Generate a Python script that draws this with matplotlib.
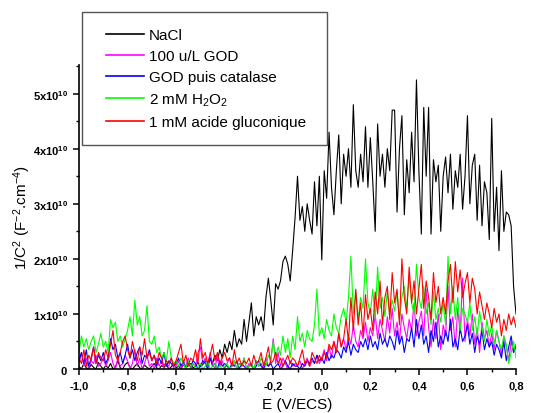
import matplotlib
matplotlib.use("Agg")
import matplotlib.pyplot as plt
import numpy as np
from matplotlib.patches import Rectangle
from matplotlib.ticker import FuncFormatter, MultipleLocator

plt.rcParams["font.family"] = ["Liberation Sans", "DejaVu Sans"]
plt.rcParams["mathtext.fontset"] = "custom"
plt.rcParams["mathtext.rm"] = "Liberation Sans"
plt.rcParams["mathtext.bf"] = "Liberation Sans:bold"
plt.rcParams["mathtext.it"] = "Liberation Sans:italic"

# potential grid, V/ECS (0.01 V step)
E = np.linspace(-1.0, 0.8, 181)

# 1/C^2 values in units of 1e10 F^-2.cm^-4
nacl = [
    0.05, 0.0, 0.1, 0.02, 0.0, 0.08, 0.03, 0.0, 0.12, 0.05,
    0.0, 0.06, 0.02, 0.1, 0.0, 0.04, 0.15, 0.02, 0.0, 0.08,
    0.12, 0.03, 0.0, 0.05, 0.1, 0.02, 0.0, 0.07, 0.03, 0.0,
    0.05, 0.1, 0.02, 0.0, 0.06, 0.03, 0.08, 0.0, 0.04, 0.1,
    0.02, 0.05, 0.0, 0.08, 0.03, 0.06, 0.1, 0.02, 0.05, 0.12,
    0.04, 0.08, 0.15, 0.06, 0.2,
    0.1, 0.25, 0.15, 0.35, 0.2, 0.45, 0.3, 0.5, 0.35, 0.7,
    0.4, 0.55, 0.45, 0.9, 0.5, 0.85, 1.2, 0.6, 0.95, 0.8,
    0.95, 0.7, 1.3, 1.65, 1.25, 0.8, 1.55, 1.45, 1.6, 1.95,
    2.05, 1.9, 1.6, 2.15, 2.75, 3.5, 2.7, 2.95, 2.5, 3.0,
    2.7, 2.45, 3.4, 2.6, 3.5,
    1.98, 3.6, 3.1, 4.3, 3.3, 2.8, 3.6, 4.25, 3.0, 3.9,
    3.5, 4.0, 3.3, 4.8, 3.6, 3.3, 3.9, 3.4, 4.4, 3.3,
    4.2, 3.4, 2.5, 4.45, 3.5, 3.9, 3.3, 4.0, 3.6, 4.7,
    4.7, 2.85, 4.0, 4.6, 2.8, 3.8, 3.2, 4.3, 3.4, 5.25,
    3.6, 2.45, 4.75, 3.5, 4.75, 2.45, 3.8, 3.4, 3.7, 2.5,
    3.5, 3.85, 3.2, 3.9, 2.9, 3.6, 3.3, 3.9, 2.9, 3.5,
    4.6, 3.0, 3.7, 3.9, 2.7, 3.7, 2.6, 3.4, 3.2, 2.35,
    4.55, 2.5, 3.3, 2.15, 3.6, 2.5, 2.85, 2.8, 2.6, 1.5,
    1.0,
]

god = [
    0.1, 0.3, 0.05, 0.2, 0.0, 0.15, 0.1, 0.25, 0.05, 0.1,
    0.2, 0.05, 0.15, 0.3, 0.1, 0.0, 0.2, 0.05, 0.1, 0.25,
    0.15, 0.0, 0.1, 0.35, 0.05, 0.2, 0.0, 0.1, 0.25, 0.05,
    0.1, 0.0, 0.2, 0.05, 0.15, 0.0, 0.1, 0.05, 0.2, 0.0,
    0.05, 0.15, 0.0, 0.1, 0.05, 0.2, 0.0, 0.1, 0.05, 0.3,
    0.4, 0.1, 0.2, 0.05, 0.3, 0.1, 0.0, 0.25, 0.05, 0.15,
    0.0, 0.1, 0.2, 0.05, 0.15, 0.0, 0.1, 0.05, 0.2, 0.0,
    0.1, 0.05, 0.0, 0.15, 0.05, 0.1, 0.0, 0.2, 0.05, 0.15,
    0.55, 0.1, 0.3, 0.05, 0.2, 0.1, 0.0, 0.15, 0.05, 0.1,
    0.05, 0.15, 0.0, 0.1, 0.2, 0.05, 0.15, 0.1, 0.25, 0.1,
    0.2, 0.35, 0.15, 0.4, 0.2, 0.5, 0.3, 0.65, 0.4, 0.55,
    0.35, 0.6, 0.45, 0.8, 0.5, 0.4, 0.7, 0.55, 0.85, 0.5,
    0.75, 0.6, 1.0, 0.55, 0.9, 0.7, 0.5, 0.95, 0.65, 1.1,
    0.6, 0.85, 0.5, 1.0, 0.75, 0.55, 0.9, 0.7, 1.2, 0.6,
    0.85, 1.05, 0.6, 1.45, 0.75, 0.4, 0.9, 0.55, 1.0, 0.35,
    0.8, 0.6, 1.5, 0.7, 0.95, 0.4, 1.1, 0.65, 1.65, 0.5,
    0.9, 0.6, 1.0, 0.45, 0.75, 0.3, 0.85, 0.55, 0.7, 0.4,
    0.65, 0.35, 0.7, 0.5, 0.25, 0.6, 0.4, 0.15, 0.5, 0.3,
    0.45,
]

god_catalase = [
    0.15, 0.3, 0.1, 0.35, 0.05, 0.2, 0.4, 0.1, 0.25, 0.15,
    0.3, 0.1, 0.2, 0.55, 0.35, 0.45, 0.2, 0.3, 0.1, 0.25,
    0.45, 0.2, 0.35, 0.15, 0.3, 0.4, 0.1, 0.25, 0.2, 0.35,
    0.15, 0.25, 0.05, 0.2, 0.1, 0.3, 0.05, 0.15, 0.1, 0.05,
    0.1, 0.2, 0.05, 0.15, 0.0, 0.1, 0.05, 0.15, 0.1, 0.0,
    0.05, 0.15, 0.1, 0.0, 0.2, 0.05, 0.1, 0.0, 0.15, 0.05,
    0.1, 0.05, 0.0, 0.1, 0.05, 0.15, 0.0, 0.1, 0.05, 0.0,
    0.05, 0.1, 0.0, 0.05, 0.15, 0.05, 0.0, 0.1, 0.05, 0.1,
    0.0, 0.05, 0.1, 0.0, 0.05, 0.15, 0.05, 0.0, 0.1, 0.05,
    0.05, 0.0, 0.1, 0.05, 0.15, 0.1, 0.2, 0.1, 0.25, 0.15,
    0.2, 0.1, 0.3, 0.15, 0.25, 0.2, 0.35, 0.3, 0.2, 0.4,
    0.3, 0.5, 0.25, 0.45, 0.35, 0.3, 0.5, 0.4, 0.55, 0.35,
    0.6, 0.4, 0.5, 0.35, 0.65, 0.45, 0.55, 0.4, 0.6, 0.5,
    0.35, 0.7, 0.45, 0.6, 0.3, 0.55, 0.5, 0.75, 0.4, 0.9,
    0.55, 0.8, 0.45, 0.6, 0.3, 0.7, 0.5, 0.85, 0.4, 0.6,
    0.45, 0.7, 0.5, 0.9, 0.4, 0.55, 0.35, 0.75, 0.5, 0.6,
    0.8, 0.45, 0.65, 0.3, 0.6, 0.45, 0.7, 0.35, 0.55, 0.4,
    0.5, 0.25, 0.45, 0.35, 0.2, 0.5, 0.15, 0.4, 0.6, 0.3,
    0.4,
]

h2o2 = [
    0.3, 0.6, 0.4, 0.55, 0.35, 0.5, 0.6, 0.3, 0.45, 0.65,
    0.4, 0.5, 0.3, 0.9, 0.75, 0.85, 0.5, 0.6, 0.4, 0.55,
    0.7, 0.95, 0.6, 1.25, 0.8, 0.95, 0.6, 0.7, 1.15, 0.5,
    0.45, 0.6, 0.3, 0.4, 0.2, 0.3, 0.15, 0.5, 0.2, 0.1,
    0.15, 0.05, 0.2, 0.1, 0.0, 0.15, 0.05, 0.1, 0.0, 0.05,
    0.1, 0.0, 0.05, 0.15, 0.0, 0.05, 0.1, 0.0, 0.05, 0.0,
    0.05, 0.1, 0.0, 0.05, 0.15, 0.0, 0.1, 0.05, 0.2, 0.0,
    0.05, 0.1, 0.0, 0.15, 0.05, 0.2, 0.1, 0.05, 0.25, 0.15,
    0.5, 0.2, 0.4, 0.25, 0.6, 0.3, 0.55, 0.2, 0.6, 0.35,
    0.95, 0.5, 0.65, 0.4, 0.7, 0.55, 0.5, 0.8, 1.45, 0.6,
    0.75, 0.55, 0.9, 0.7, 0.6, 1.0, 0.75, 0.65, 0.95, 1.1,
    0.85, 1.3, 2.05, 1.0, 1.4, 0.9, 1.3, 1.1, 2.0, 1.2,
    1.0, 1.45, 0.9, 1.85, 1.1, 1.3, 0.95, 1.4, 1.0, 1.25,
    1.05, 1.4, 0.9, 1.3, 1.5, 1.1, 1.7, 1.2, 1.0, 1.9,
    1.3, 1.1, 1.5, 1.0, 1.2, 0.8, 1.4, 0.9, 1.1, 0.85,
    1.2, 0.8, 2.05, 1.0, 1.5, 0.9, 1.3, 0.7, 1.1, 1.0,
    0.85, 1.2, 0.7, 0.95, 0.6, 1.05, 0.75, 0.5, 0.9, 0.6,
    0.8, 0.45, 0.7, 0.5, 0.35, 0.6, 0.45, 0.1, 0.3, 0.5,
    0.2,
]

gluconic = [
    0.2, 0.1, 0.35, 0.05, 0.25, 0.15, 0.4, 0.1, 0.3, 0.2,
    0.15, 0.35, 0.2, 0.45, 0.7, 0.25, 0.15, 0.3, 0.5, 0.6,
    0.35, 0.2, 0.5, 0.3, 0.15, 0.4, 0.25, 0.55, 0.2, 0.3,
    0.15, 0.25, 0.1, 0.3, 0.2, 0.05, 0.15, 0.1, 0.2, 0.05,
    0.15, 0.3, 0.45, 0.1, 0.25, 0.05, 0.2, 0.15, 0.35, 0.1,
    0.55, 0.2, 0.3, 0.1, 0.25, 0.45, 0.15, 0.3, 0.1, 0.2,
    0.3, 0.15, 0.2, 0.05, 0.35, 0.1, 0.2, 0.05, 0.15, 0.1,
    0.2, 0.05, 0.25, 0.1, 0.15, 0.3, 0.05, 0.2, 0.4, 0.1,
    0.15, 0.3, 0.1, 0.2, 0.05, 0.15, 0.25, 0.1, 0.2, 0.15,
    0.05, 0.2, 0.35, 0.1, 0.15, 0.05, 0.3, 0.2, 0.1, 0.25,
    0.15, 0.3, 0.2, 0.45, 0.35, 0.5, 0.3, 0.65, 0.4, 0.55,
    0.9, 0.5, 1.3, 0.7, 1.45, 0.8, 1.2, 0.6, 1.35, 0.9,
    1.1, 0.7, 1.4, 1.0, 1.6, 0.8, 1.3, 1.5, 0.9, 1.75,
    1.2, 1.45, 0.8, 2.0, 1.3, 1.0, 1.85, 1.2, 1.6, 1.0,
    1.45, 1.9, 1.1, 1.6, 1.3, 0.9, 1.75, 1.2, 1.5, 1.0,
    1.3, 1.0, 1.6, 1.9, 1.2, 1.95, 1.4, 1.8, 1.3, 1.55,
    1.75, 1.2, 1.65, 1.45, 1.0, 1.4, 1.15, 0.9, 1.2, 1.0,
    0.75, 1.1, 0.85, 1.0, 0.6, 0.9, 0.7, 1.0, 0.8, 0.95,
    0.75,
]

labels = ["NaCl", "100 u/L GOD", "GOD puis catalase", "2 mM H$_2$O$_2$", "1 mM acide gluconique"]
colors = ["#000000", "#ff00ff", "#0000ff", "#00ff00", "#ff0000"]


def x_label(val, pos):
    return f"{val:.1f}".replace(".", ",")


def y_label(val, pos):
    n = int(round(val))
    if n == 0:
        return r"$\mathbf{0}$"
    return rf"$\mathbf{{{n}x10^{{10}}}}$"


def main() -> None:
    fig = plt.figure(figsize=(5.33, 4.14), dpi=100)
    ax = fig.add_axes([79 / 533, 1 - 370 / 414, 437 / 533, 304 / 414])

    for series, label, color in zip([nacl, god, god_catalase, h2o2, gluconic], labels, colors):
        ax.plot(E, series, color=color, linewidth=0.8, label=label)

    ax.set_xlim(-1.0, 0.8)
    ax.set_ylim(0, 5.52)
    ax.spines["top"].set_visible(False)
    ax.spines["right"].set_visible(False)
    for side in ("left", "bottom"):
        ax.spines[side].set_linewidth(1.2)

    ax.xaxis.set_major_locator(MultipleLocator(0.2))
    ax.xaxis.set_minor_locator(MultipleLocator(0.1))
    ax.yaxis.set_major_locator(MultipleLocator(1))
    ax.yaxis.set_minor_locator(MultipleLocator(0.5))
    ax.xaxis.set_major_formatter(FuncFormatter(x_label))
    ax.yaxis.set_major_formatter(FuncFormatter(y_label))
    ax.tick_params(which="major", direction="out", length=4, width=1.1, labelsize=8, pad=4)
    ax.tick_params(which="minor", direction="out", length=2.5, width=1.0)
    for lab in ax.get_xticklabels():
        lab.set_fontweight("bold")

    ax.set_xlabel("E (V/ECS)", fontsize=11, labelpad=5)
    ax.set_ylabel("1/C$^2$ (F$^{-2}$.cm$^{-4}$)", fontsize=11, labelpad=0)

    fig.patches.append(Rectangle((82 / 533, 1 - 146 / 414), 245 / 533, 133 / 414,
                                 transform=fig.transFigure, fill=False,
                                 edgecolor="#555555", linewidth=1.0))
    leg = fig.legend(loc="upper left", bbox_to_anchor=(106 / 533, 1 - 29 / 414), frameon=False,
                     fontsize=11, handlelength=2.5, handletextpad=0.3, labelspacing=0.47,
                     borderpad=0, borderaxespad=0)
    for line in leg.get_lines():
        line.set_linewidth(1.2)

    fig.savefig("out.png", dpi=100)
    plt.close(fig)


if __name__ == "__main__":
    main()
